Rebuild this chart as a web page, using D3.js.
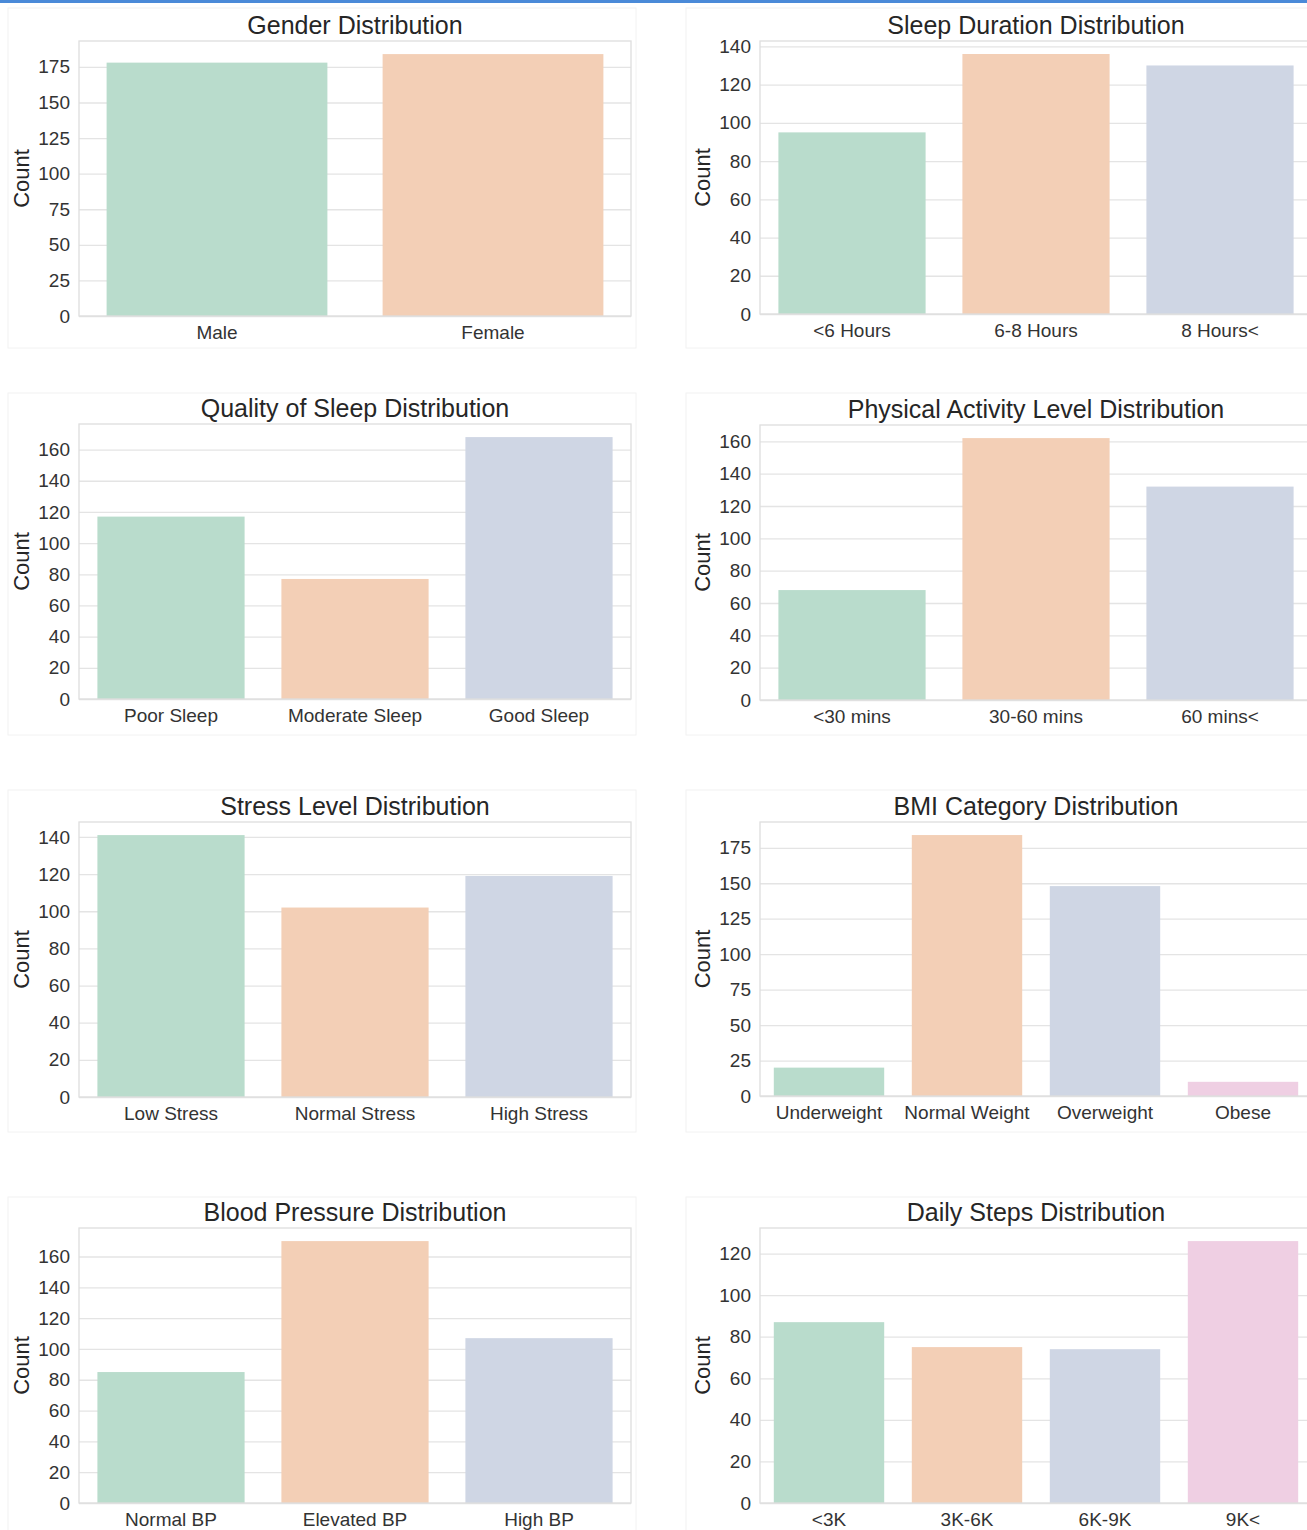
<!DOCTYPE html>
<html>
<head>
<meta charset="utf-8">
<script src="https://cdn.jsdelivr.net/npm/d3@7"></script>
<style>
  html, body { margin: 0; padding: 0; background: #ffffff; }
  svg { display: block; }
  text { font-family: "Liberation Sans", Arial, Helvetica, sans-serif; }
</style>
</head>
<body>
<svg id="chart" width="1307" height="1530"></svg>
<script>
// ---------------- DATA ----------------
const genderCats   = ["Male", "Female"];
const genderVals   = [178, 184];
const genderTicks  = [0, 25, 50, 75, 100, 125, 150, 175];

const sleepDurCats  = ["<6 Hours", "6-8 Hours", "8 Hours<"];
const sleepDurVals  = [95, 136, 130];
const sleepDurTicks = [0, 20, 40, 60, 80, 100, 120, 140];

const qualityCats  = ["Poor Sleep", "Moderate Sleep", "Good Sleep"];
const qualityVals  = [117, 77, 168];
const qualityTicks = [0, 20, 40, 60, 80, 100, 120, 140, 160];

const activityCats  = ["<30 mins", "30-60 mins", "60 mins<"];
const activityVals  = [68, 162, 132];
const activityTicks = [0, 20, 40, 60, 80, 100, 120, 140, 160];

const stressCats  = ["Low Stress", "Normal Stress", "High Stress"];
const stressVals  = [141, 102, 119];
const stressTicks = [0, 20, 40, 60, 80, 100, 120, 140];

const bmiCats  = ["Underweight", "Normal Weight", "Overweight", "Obese"];
const bmiVals  = [20, 184, 148, 10];
const bmiTicks = [0, 25, 50, 75, 100, 125, 150, 175];

const bpCats  = ["Normal BP", "Elevated BP", "High BP"];
const bpVals  = [85, 170, 107];
const bpTicks = [0, 20, 40, 60, 80, 100, 120, 140, 160];

const stepsCats  = ["<3K", "3K-6K", "6K-9K", "9K<"];
const stepsVals  = [87, 75, 74, 126];
const stepsTicks = [0, 20, 40, 60, 80, 100, 120];

const titles = [
  "Gender Distribution", "Sleep Duration Distribution",
  "Quality of Sleep Distribution", "Physical Activity Level Distribution",
  "Stress Level Distribution", "BMI Category Distribution",
  "Blood Pressure Distribution", "Daily Steps Distribution"
];

// seaborn Pastel2 desaturated (saturation 0.75)
const palette = ["#b9dccc", "#f3cfb6", "#cfd6e4", "#efcfe3"];

// ---------------- LAYOUT ----------------
const panels = [
  { cats: genderCats,   vals: genderVals,   ticks: genderTicks,   x0: 79,  top: 41,   bottom: 316,  box: [8, 8, 628, 340] },
  { cats: sleepDurCats, vals: sleepDurVals, ticks: sleepDurTicks, x0: 760, top: 41,   bottom: 314,  box: [686, 8, 640, 340] },
  { cats: qualityCats,  vals: qualityVals,  ticks: qualityTicks,  x0: 79,  top: 424,  bottom: 699,  box: [8, 393, 628, 342] },
  { cats: activityCats, vals: activityVals, ticks: activityTicks, x0: 760, top: 425,  bottom: 700,  box: [686, 393, 640, 342] },
  { cats: stressCats,   vals: stressVals,   ticks: stressTicks,   x0: 79,  top: 822,  bottom: 1097, box: [8, 790, 628, 342] },
  { cats: bmiCats,      vals: bmiVals,      ticks: bmiTicks,      x0: 760, top: 822,  bottom: 1096, box: [686, 790, 640, 342] },
  { cats: bpCats,       vals: bpVals,       ticks: bpTicks,       x0: 79,  top: 1228, bottom: 1503, box: [8, 1197, 628, 340] },
  { cats: stepsCats,    vals: stepsVals,    ticks: stepsTicks,    x0: 760, top: 1228, bottom: 1503, box: [686, 1197, 640, 340] }
];
const axW = 552;

const svg = d3.select("#chart");
svg.append("rect").attr("width", 1307).attr("height", 1530).attr("fill", "#ffffff");

panels.forEach((p, i) => {
  // faint outer image box
  svg.append("rect")
    .attr("x", p.box[0]).attr("y", p.box[1])
    .attr("width", p.box[2]).attr("height", p.box[3])
    .attr("fill", "none").attr("stroke", "#f2f2f2").attr("stroke-width", 1);

  const g = svg.append("g");
  const h = p.bottom - p.top;
  const x = d3.scaleBand().domain(p.cats).range([p.x0, p.x0 + axW]).paddingInner(0.2).paddingOuter(0.1);
  const y = d3.scaleLinear().domain([0, d3.max(p.vals) * 1.05]).range([p.bottom, p.top]);

  // grid lines + y tick labels
  const yAxis = d3.axisLeft(y).tickValues(p.ticks).tickSize(-axW).tickPadding(9).tickFormat(d3.format("d"));
  const ya = g.append("g").attr("transform", `translate(${p.x0},0)`).call(yAxis);
  ya.select(".domain").remove();
  ya.selectAll(".tick line").attr("stroke", "#e4e4e4").attr("stroke-width", 1.3);
  ya.selectAll(".tick text").attr("fill", "#333333").attr("font-size", 19)
    .attr("font-family", "'Liberation Sans', Arial, sans-serif");

  // bars
  g.selectAll("rect.bar").data(p.cats).enter().append("rect")
    .attr("class", "bar")
    .attr("x", d => x(d))
    .attr("width", x.bandwidth())
    .attr("y", (d, j) => y(p.vals[j]))
    .attr("height", (d, j) => y(0) - y(p.vals[j]))
    .attr("fill", (d, j) => palette[j]);

  // frame
  g.append("rect")
    .attr("x", p.x0).attr("y", p.top).attr("width", axW).attr("height", h)
    .attr("fill", "none").attr("stroke", "#dedede").attr("stroke-width", 1.3);

  // x axis labels
  const xAxis = d3.axisBottom(x).tickSize(0).tickPadding(10);
  const xa = g.append("g").attr("transform", `translate(0,${p.bottom})`).call(xAxis);
  xa.select(".domain").remove();
  xa.selectAll(".tick text").attr("fill", "#333333").attr("font-size", 19)
    .attr("font-family", "'Liberation Sans', Arial, sans-serif");

  // title
  g.append("text")
    .attr("x", p.x0 + axW / 2).attr("y", p.top - 7)
    .attr("text-anchor", "middle")
    .attr("font-size", 25).attr("fill", "#262626")
    .text(titles[i]);

  // y label
  g.append("text")
    .attr("transform", `translate(${p.x0 - 50},${(p.top + p.bottom) / 2}) rotate(-90)`)
    .attr("text-anchor", "middle")
    .attr("font-size", 22).attr("fill", "#262626")
    .text("Count");
});

// blue top line
svg.append("rect").attr("x", 0).attr("y", 0).attr("width", 1307).attr("height", 3).attr("fill", "#4a8ad8");
</script>
</body>
</html>
